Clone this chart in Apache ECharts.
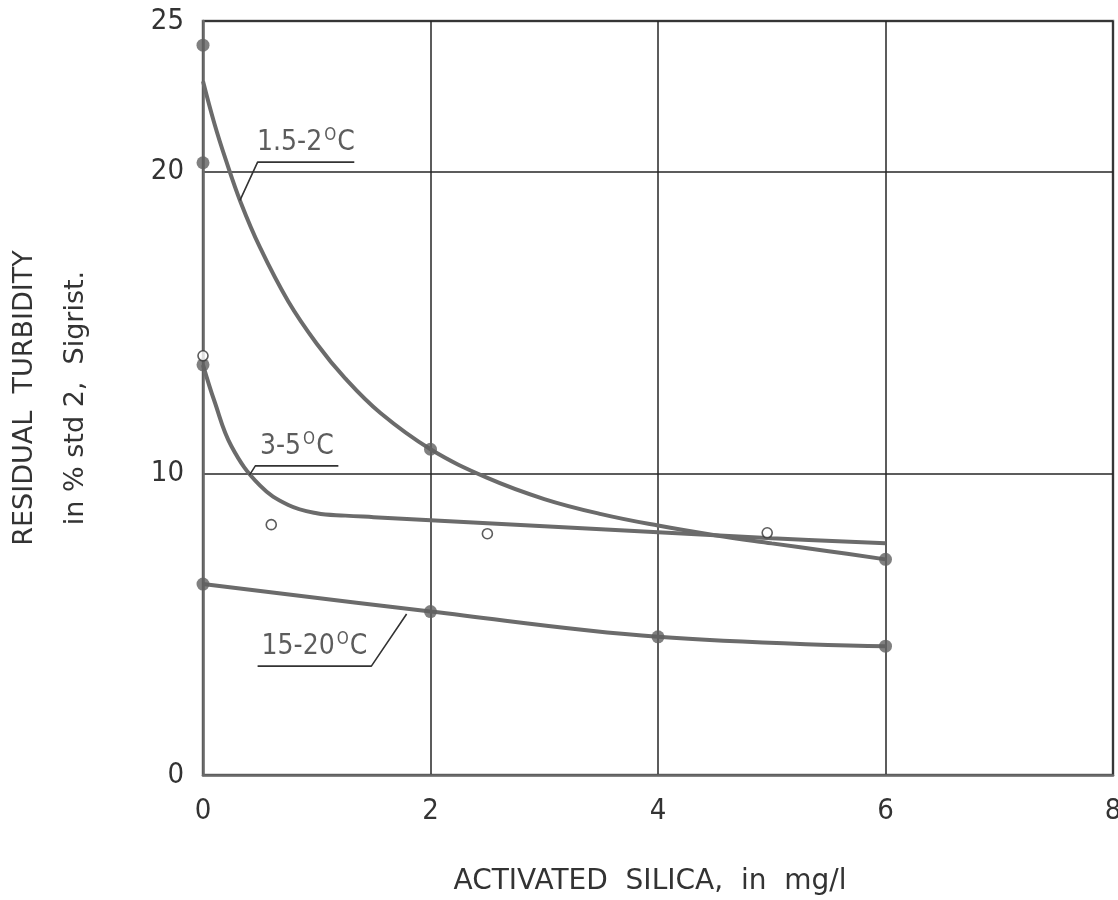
<!DOCTYPE html>
<html>
<head>
<meta charset="utf-8">
<script src="https://cdn.jsdelivr.net/npm/echarts@6/dist/echarts.min.js"></script>
<style>
  html, body { margin: 0; padding: 0; background: #fff; }
  #chart { width: 1118px; height: 900px; }
</style>
</head>
<body>
<div id="chart"></div>
<script>
// Residual turbidity vs. activated silica dose at three water temperatures.
const NARROW = "'DejaVu Sans Condensed', 'Liberation Sans Narrow', 'DejaVu Sans', sans-serif";
const WIDE = "'DejaVu Sans', 'Liberation Sans', sans-serif";

const xTicks = [0, 2, 4, 6, 8];
const yTicks = [0, 10, 20, 25];

// Measured points (filled dots)
const cold_pts = [[0, 24.2], [0, 20.3], [2, 10.8], [6, 7.15]];
const mid_filled = [[0, 13.6]];
const warm_pts = [[0, 6.33], [2, 5.42], [4, 4.58], [6, 4.27]];
// Measured points (open circles)
const mid_open = [[0, 13.9], [0.6, 8.3], [2.5, 8.0], [4.96, 8.03]];

// Hand-drawn fitted curves
const cold_curve = [
  [0, 23.0], [0.1, 21.6], [0.2, 20.4], [0.33, 19.0], [0.5, 17.5], [0.75, 15.7],
  [1.0, 14.3], [1.25, 13.15], [1.56, 12.0], [2, 10.8], [2.5, 9.85], [3, 9.15],
  [3.5, 8.65], [4, 8.27], [4.5, 7.95], [5, 7.68], [5.5, 7.42], [6, 7.15]
];
const mid_curve = [
  [0, 13.6], [0.1, 12.4], [0.25, 10.9], [0.5, 9.6], [0.75, 8.95], [1.0, 8.68],
  [1.25, 8.6], [1.5, 8.55], [2, 8.45], [3, 8.25], [4, 8.05], [5, 7.85], [6, 7.68]
];
const warm_curve = [[0, 6.33], [2, 5.42], [4, 4.58], [6, 4.27]];

// Curve labels with their leader lines: [curve point, underline start, underline end]
const labels = [
  { text: '1.5-2', leader: [[0.325, 19.05], [0.48, 20.32], [1.33, 20.32]] },
  { text: '3-5', leader: [[0.41, 9.95], [0.46, 10.25], [1.19, 10.25]] },
  { text: '15-20', leader: [[1.79, 5.34], [1.48, 3.61], [0.48, 3.61]] }
];

const LINE = '#6b6b6b';
const DOT = '#606060';
const INK = '#333';

const series = [];
function curve(data) {
  series.push({
    type: 'line', data: data, smooth: 0.4, symbol: 'none', silent: true,
    lineStyle: { color: LINE, width: 4 }, z: 3
  });
}
curve(cold_curve); curve(mid_curve); curve(warm_curve);

series.push({
  type: 'scatter', data: cold_pts.concat(mid_filled, warm_pts), symbolSize: 13,
  itemStyle: { color: DOT }, z: 5, silent: true
});
series.push({
  type: 'scatter', data: mid_open, symbolSize: 10, symbol: 'circle',
  itemStyle: { color: '#fff', borderColor: INK, borderWidth: 1.6 }, z: 6, silent: true
});

labels.forEach(function (l) {
  series.push({
    type: 'line', data: l.leader, symbol: 'none', smooth: false, silent: true,
    lineStyle: { color: INK, width: 1.6 }, z: 4
  });
  const a = l.leader[1], b = l.leader[2];
  series.push({
    type: 'scatter', symbolSize: 0, silent: true, z: 7,
    data: [[(a[0] + b[0]) / 2, a[1]]],
    label: {
      show: true, position: 'top', distance: 3,
      formatter: '{t|' + l.text + '}{o|O}{t|C}',
      rich: {
        t: { fontFamily: NARROW, fontSize: 28, color: INK, lineHeight: 32 },
        o: { fontFamily: NARROW, fontSize: 17, color: INK, verticalAlign: 'top', lineHeight: 17, padding: [0, 1, 0, 2] }
      }
    }
  });
});

const chart = echarts.init(document.getElementById('chart'), null, { renderer: 'canvas' });
chart.setOption({
  backgroundColor: '#fff',
  animation: false,
  grid: {
    left: 203, right: 5, top: 21, bottom: 125,
    outerBoundsMode: 'none',
    show: true, borderColor: '#6a6a6a', borderWidth: 2.5, backgroundColor: 'transparent'
  },
  xAxis: {
    type: 'value', min: 0, max: 8, interval: 2,
    name: 'ACTIVATED  SILICA,  in  mg/l',
    nameLocation: 'middle', nameGap: 93,
    nameTextStyle: { fontFamily: WIDE, fontSize: 28, color: INK, padding: [0, 16, 0, 0] },
    axisLine: { show: true, lineStyle: { color: '#6a6a6a', width: 2.5 } },
    axisTick: { show: false },
    axisLabel: { fontFamily: NARROW, fontSize: 29, color: INK, margin: 22 },
    splitLine: { show: true, lineStyle: { color: '#262626', width: 1.5 } }
  },
  yAxis: {
    type: 'value', min: 0, max: 25, interval: 10,
    name: 'RESIDUAL  TURBIDITY\nin % std 2,  Sigrist.',
    nameLocation: 'middle', nameGap: 102,
    nameTextStyle: { fontFamily: WIDE, fontSize: 27, color: INK, lineHeight: 51 },
    axisLine: { show: true, lineStyle: { color: '#6a6a6a', width: 2.5 } },
    axisTick: { show: false },
    axisLabel: { fontFamily: NARROW, fontSize: 29, color: INK, margin: 19 },
    splitLine: { show: true, lineStyle: { color: '#262626', width: 1.5 } }
  },
  series: series
});
</script>
</body>
</html>
